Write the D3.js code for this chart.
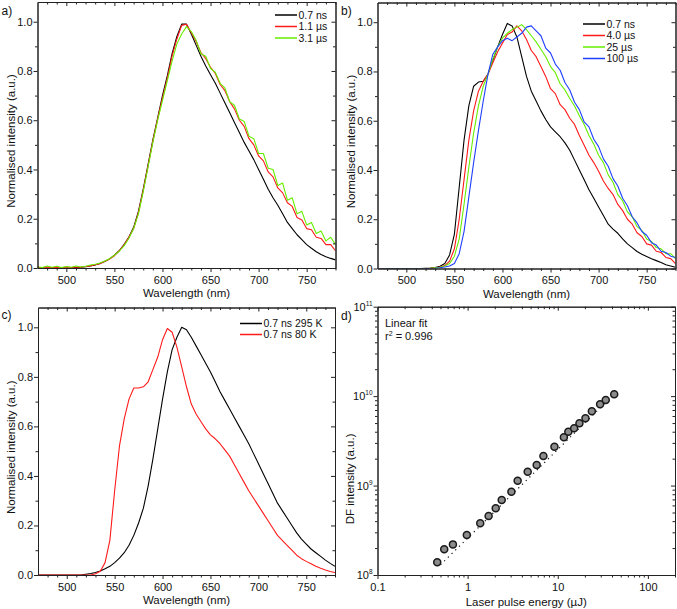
<!DOCTYPE html>
<html><head><meta charset="utf-8">
<script src="https://cdn.jsdelivr.net/npm/d3@7"></script>
<style>body{margin:0;background:#fff}svg{display:block;font-family:"Liberation Sans",Arial,sans-serif}</style>
</head><body><svg id="c" width="677" height="609"></svg>
<script>
// ---------- DATA ----------
const wavelength = [470,475,480,485,490,495,500,505,510,515,520,525,530,535,540,545,550,555,560,565,570,575,580,585,590,595,600,605,610,615,620,625,630,635,640,645,650,655,660,665,670,675,680,685,690,695,700,705,710,715,720,725,730,735,740,745,750,755,760,765,770,775,780];
const xTicksNm = [500,550,600,650,700,750];
const yTicksNorm = [0.0,0.2,0.4,0.6,0.8,1.0];

// panel a
const a_07ns = [0,0,0,0,0,0,0,0.001,0.002,0.003,0.005,0.008,0.012,0.018,0.026,0.037,0.052,0.07,0.095,0.125,0.165,0.23,0.32,0.42,0.52,0.61,0.70,0.78,0.87,0.94,0.99,0.99,0.95,0.905,0.86,0.82,0.785,0.75,0.71,0.67,0.63,0.59,0.55,0.51,0.475,0.44,0.40,0.36,0.32,0.285,0.255,0.22,0.185,0.16,0.135,0.115,0.095,0.08,0.066,0.055,0.046,0.039,0.033];
const a_11us = [0.003,0.0,0.004,0.001,0.003,0.0,0.004,0.002,0.004,0.003,0.006,0.008,0.013,0.017,0.027,0.036,0.05,0.07,0.093,0.125,0.16,0.225,0.315,0.415,0.515,0.605,0.69,0.77,0.86,0.93,0.985,0.99,0.955,0.92,0.875,0.85,0.815,0.79,0.745,0.72,0.675,0.645,0.6,0.575,0.525,0.5,0.455,0.435,0.39,0.37,0.325,0.305,0.265,0.25,0.205,0.195,0.16,0.155,0.125,0.12,0.095,0.095,0.07];
const a_31us = [0.005,0.002,0.008,0.003,0.007,0.002,0.006,0.003,0.008,0.004,0.007,0.012,0.015,0.02,0.028,0.038,0.052,0.068,0.09,0.12,0.16,0.22,0.31,0.41,0.51,0.6,0.68,0.76,0.84,0.91,0.95,0.98,0.96,0.925,0.87,0.86,0.81,0.795,0.75,0.73,0.675,0.66,0.605,0.595,0.535,0.525,0.465,0.465,0.405,0.4,0.335,0.345,0.275,0.285,0.22,0.23,0.175,0.185,0.14,0.15,0.11,0.125,0.095];

// panel b
const b_07ns = [0,0,0,0,0,0,0,0,0,0,0.001,0.002,0.004,0.009,0.02,0.055,0.14,0.33,0.52,0.66,0.74,0.757,0.76,0.79,0.845,0.90,0.95,0.995,0.985,0.94,0.86,0.78,0.72,0.68,0.64,0.605,0.575,0.555,0.535,0.51,0.48,0.44,0.40,0.36,0.32,0.285,0.25,0.215,0.18,0.16,0.143,0.12,0.10,0.085,0.069,0.058,0.049,0.04,0.032,0.024,0.015,0.01,0.005];
const b_40us = [0,0,0,0,0,0,0,0,0,0,0,0.001,0.003,0.006,0.012,0.03,0.08,0.2,0.36,0.52,0.64,0.72,0.76,0.79,0.835,0.88,0.915,0.95,0.96,0.985,0.965,0.93,0.885,0.86,0.82,0.78,0.73,0.71,0.665,0.645,0.61,0.585,0.54,0.5,0.46,0.43,0.395,0.355,0.325,0.3,0.26,0.235,0.2,0.18,0.145,0.13,0.1,0.095,0.07,0.065,0.045,0.04,0.02];
const b_25us = [0,0,0,0,0,0,0,0,0,0,0,0.001,0.003,0.005,0.01,0.02,0.05,0.12,0.26,0.41,0.55,0.66,0.74,0.79,0.85,0.9,0.935,0.955,0.97,0.98,0.99,0.97,0.945,0.92,0.89,0.86,0.82,0.795,0.75,0.725,0.69,0.66,0.62,0.585,0.54,0.505,0.46,0.43,0.38,0.35,0.3,0.275,0.23,0.21,0.17,0.155,0.12,0.11,0.085,0.08,0.06,0.06,0.04];
const b_100us = [0,0,0,0,0,0,0,0,0,0,0,0,0.001,0.003,0.006,0.01,0.02,0.06,0.15,0.29,0.43,0.56,0.68,0.79,0.87,0.9,0.925,0.935,0.925,0.94,0.955,0.98,0.985,0.965,0.945,0.895,0.875,0.83,0.805,0.755,0.725,0.675,0.645,0.595,0.575,0.525,0.495,0.445,0.415,0.365,0.335,0.285,0.255,0.21,0.185,0.15,0.135,0.105,0.095,0.07,0.065,0.05,0.045];

// panel c
const c_295K = [0,0,0,0,0,0,0,0,0,0,0.003,0.006,0.01,0.016,0.025,0.035,0.05,0.068,0.09,0.12,0.16,0.21,0.27,0.36,0.47,0.59,0.71,0.82,0.91,0.96,1.0,0.99,0.96,0.925,0.89,0.855,0.82,0.78,0.74,0.705,0.67,0.635,0.60,0.565,0.53,0.49,0.45,0.41,0.37,0.33,0.29,0.26,0.23,0.2,0.17,0.145,0.125,0.105,0.09,0.075,0.06,0.047,0.035];
const c_80K = [0,0,0,0,0,0,0,0,0,0,0,0,0.005,0.015,0.05,0.14,0.34,0.52,0.63,0.71,0.755,0.755,0.76,0.78,0.83,0.88,0.95,0.995,0.98,0.92,0.84,0.76,0.69,0.65,0.62,0.59,0.566,0.55,0.53,0.505,0.48,0.445,0.41,0.375,0.34,0.31,0.28,0.25,0.22,0.19,0.16,0.14,0.12,0.1,0.08,0.066,0.055,0.045,0.035,0.027,0.02,0.014,0.01];

// panel d
const pulseEnergy = [0.46,0.55,0.687,0.98,1.38,1.71,2.05,2.39,3.06,3.59,4.64,5.84,6.93,9.19,11.7,13.1,15.2,17.4,20.3,23.9,29.5,34.1,42.3];
const dfIntensity = [1.39e8,1.94e8,2.2e8,2.8e8,3.78e8,4.57e8,5.57e8,6.9e8,8.55e8,1.13e9,1.43e9,1.7e9,2.14e9,2.72e9,3.46e9,4.0e9,4.37e9,4.96e9,5.65e9,6.76e9,8.1e9,9.05e9,1.05e10];
const fitEnergy = [0.5, 44];
const fitIntensity = [1.3e8, 1.1e10];
const xTicksEnergy = [0.1, 1, 10, 100];
const yTickExp = [8, 9, 10, 11];

// ---------- DRAW ----------
const svg = d3.select("#c");
const AX = "#222";
const FONT = 11;
let clipId = 0;

function frame(g, x, y, L, R, T, B, xMajor, xMinor, yMajor, yMinor, xFmt, yFmt) {
  g.append("g").attr("transform", `translate(0,${B})`)
    .call(d3.axisBottom(x).tickValues(xMajor).tickSize(4).tickSizeOuter(0).tickPadding(4).tickFormat(xFmt));
  g.append("g").attr("transform", `translate(0,${B})`)
    .call(d3.axisBottom(x).tickValues(xMinor).tickSize(2.5).tickSizeOuter(0).tickFormat(""));
  g.append("g").attr("transform", `translate(0,${T})`)
    .call(d3.axisBottom(x).tickValues(xMajor).tickSize(4).tickSizeOuter(0).tickFormat(""));
  g.append("g").attr("transform", `translate(0,${T})`)
    .call(d3.axisBottom(x).tickValues(xMinor).tickSize(2.5).tickSizeOuter(0).tickFormat(""));
  g.append("g").attr("transform", `translate(${L},0)`)
    .call(d3.axisLeft(y).tickValues(yMajor).tickSize(4).tickSizeOuter(0).tickPadding(1).tickFormat(yFmt));
  g.append("g").attr("transform", `translate(${L},0)`)
    .call(d3.axisLeft(y).tickValues(yMinor).tickSize(2.5).tickSizeOuter(0).tickFormat(""));
  g.append("g").attr("transform", `translate(${R},0)`)
    .call(d3.axisLeft(y).tickValues(yMajor).tickSize(4).tickSizeOuter(0).tickFormat(""));
  g.append("g").attr("transform", `translate(${R},0)`)
    .call(d3.axisLeft(y).tickValues(yMinor).tickSize(2.5).tickSizeOuter(0).tickFormat(""));
  g.selectAll(".domain, .tick line").attr("stroke", AX).attr("stroke-width", 1);
  g.selectAll(".tick text").attr("fill", "#111").attr("font-size", FONT).attr("font-family", "Liberation Sans, Arial, sans-serif");
}

function spectrumPanel(p) {
  const {L, R, T, B} = p;
  const g = svg.append("g");
  const x = d3.scaleLinear().domain([470, 780]).range([L, R]);
  const y = d3.scaleLinear().domain([0, 1.08]).range([B, T]);
  const id = "clip" + (clipId++);
  svg.append("clipPath").attr("id", id).append("rect").attr("x", L).attr("y", T).attr("width", R - L).attr("height", B - T);
  const line = d3.line().x((d, i) => x(wavelength[i])).y(d => y(d));
  const cg = g.append("g").attr("clip-path", `url(#${id})`);
  p.series.forEach(s => {
    cg.append("path").datum(s.values).attr("d", line).attr("fill", "none")
      .attr("stroke", s.color).attr("stroke-width", s.w || 1.1).attr("stroke-linejoin", "round");
  });
  const xMinor = d3.range(480, 781, 10).filter(v => v % 50 !== 0);
  const yMinor = [0.1, 0.3, 0.5, 0.7, 0.9];
  frame(g, x, y, L, R, T, B, xTicksNm, xMinor, yTicksNorm, yMinor, d3.format("d"), d3.format(".1f"));
  g.append("text").attr("x", (L + R) / 2).attr("y", B + 29).attr("text-anchor", "middle")
    .attr("font-size", 11.5).attr("fill", "#111").text("Wavelength (nm)");
  g.append("text").attr("transform", `translate(${L - 23},${(T + B) / 2 + 6}) rotate(-90)`)
    .attr("text-anchor", "middle").attr("font-size", 11.5).attr("fill", "#111").text("Normalised intensity (a.u.)");
  g.append("text").attr("x", p.letterX).attr("y", p.letterY).attr("font-size", 12).attr("fill", "#111").text(p.letter);
  p.series.forEach((s, i) => {
    const ly = p.legY + i * p.legDy;
    g.append("line").attr("x1", p.legX).attr("x2", p.legX + 22).attr("y1", ly).attr("y2", ly)
      .attr("stroke", s.color).attr("stroke-width", 1.5);
    g.append("text").attr("x", p.legX + 23.5).attr("y", ly + 3.8).attr("font-size", 10.5).attr("fill", "#111").text(s.name);
  });
}

spectrumPanel({L: 37.5, R: 335.5, T: 2, B: 268, letter: "a)", letterX: 1.5, letterY: 14.5,
  legX: 275, legY: 15, legDy: 11.5,
  series: [
    {name: "0.7 ns", color: "#000000", values: a_07ns},
    {name: "1.1 \u00b5s", color: "#ff1a1a", values: a_11us},
    {name: "3.1 \u00b5s", color: "#66ee00", values: a_31us}
  ]});

spectrumPanel({L: 377.5, R: 675.5, T: 2.5, B: 268.5, letter: "b)", letterX: 341, letterY: 14.5,
  legX: 583, legY: 24, legDy: 11.5,
  series: [
    {name: "0.7 ns", color: "#000000", values: b_07ns},
    {name: "4.0 \u00b5s", color: "#ff1a1a", values: b_40us},
    {name: "25 \u00b5s", color: "#66ee00", values: b_25us},
    {name: "100 \u00b5s", color: "#1f3fff", values: b_100us}
  ]});

spectrumPanel({L: 38, R: 335, T: 307.5, B: 575, letter: "c)", letterX: 1.5, letterY: 319,
  legX: 240, legY: 323.5, legDy: 11,
  series: [
    {name: "0.7 ns 295 K", color: "#000000", values: c_295K},
    {name: "0.7 ns 80 K", color: "#ff1a1a", values: c_80K}
  ]});

// panel d
(function () {
  const L = 377.5, R = 675, T = 306.7, B = 575;
  const g = svg.append("g");
  const x = d3.scaleLog().domain([0.1, 200]).range([L, R]);
  const y = d3.scaleLog().domain([1e8, 1e11]).range([B, T]);
  const xMinor = [];
  [0.1, 1, 10, 100].forEach(dec => { for (let k = 2; k <= 9; k++) { const v = dec * k; if (v <= 200) xMinor.push(v); } });
  const yMinor = [];
  [1e8, 1e9, 1e10].forEach(dec => { for (let k = 2; k <= 9; k++) yMinor.push(dec * k); });
  const yMajor = yTickExp.map(e => Math.pow(10, e));
  frame(g, x, y, L, R, T, B, xTicksEnergy, xMinor, yMajor, yMinor, d => (d < 1 ? "0.1" : d3.format("d")(d)), () => "");
  yTickExp.forEach(e => {
    const t = g.append("text").attr("x", L - 5).attr("y", y(Math.pow(10, e)) + 4).attr("text-anchor", "end")
      .attr("font-size", FONT).attr("fill", "#111");
    t.append("tspan").text("10");
    t.append("tspan").attr("dy", -5).attr("font-size", 6.5).text(e);
  });
  g.append("path").datum(fitEnergy.map((v, i) => [v, fitIntensity[i]]))
    .attr("d", d3.line().x(d => x(d[0])).y(d => y(d[1])))
    .attr("stroke", "#111").attr("stroke-width", 1.2).attr("stroke-dasharray", "1.2,4").attr("fill", "none");
  g.selectAll("circle.pt").data(pulseEnergy.map((v, i) => [v, dfIntensity[i]])).enter().append("circle")
    .attr("cx", d => x(d[0])).attr("cy", d => y(d[1])).attr("r", 3.5)
    .attr("fill", "#8c8c8c").attr("stroke", "#1a1a1a").attr("stroke-width", 1.5);
  g.append("text").attr("x", (L + R) / 2).attr("y", B + 31).attr("text-anchor", "middle")
    .attr("font-size", 11.5).attr("fill", "#111").text("Laser pulse energy (\u00b5J)");
  g.append("text").attr("transform", `translate(${L - 24},${(T + B) / 2 + 38}) rotate(-90)`)
    .attr("text-anchor", "middle").attr("font-size", 11.5).attr("fill", "#111").text("DF intensity (a.u.)");
  g.append("text").attr("x", 341).attr("y", 320).attr("font-size", 12).attr("fill", "#111").text("d)");
  g.append("text").attr("x", 385).attr("y", 327).attr("font-size", 11).attr("fill", "#111").text("Linear fit");
  const r2 = g.append("text").attr("x", 385).attr("y", 340).attr("font-size", 11).attr("fill", "#111");
  r2.append("tspan").text("r");
  r2.append("tspan").attr("dy", -4).attr("font-size", 7).text("2");
  r2.append("tspan").attr("dy", 4).text(" = 0.996");
})();
</script></body></html>
